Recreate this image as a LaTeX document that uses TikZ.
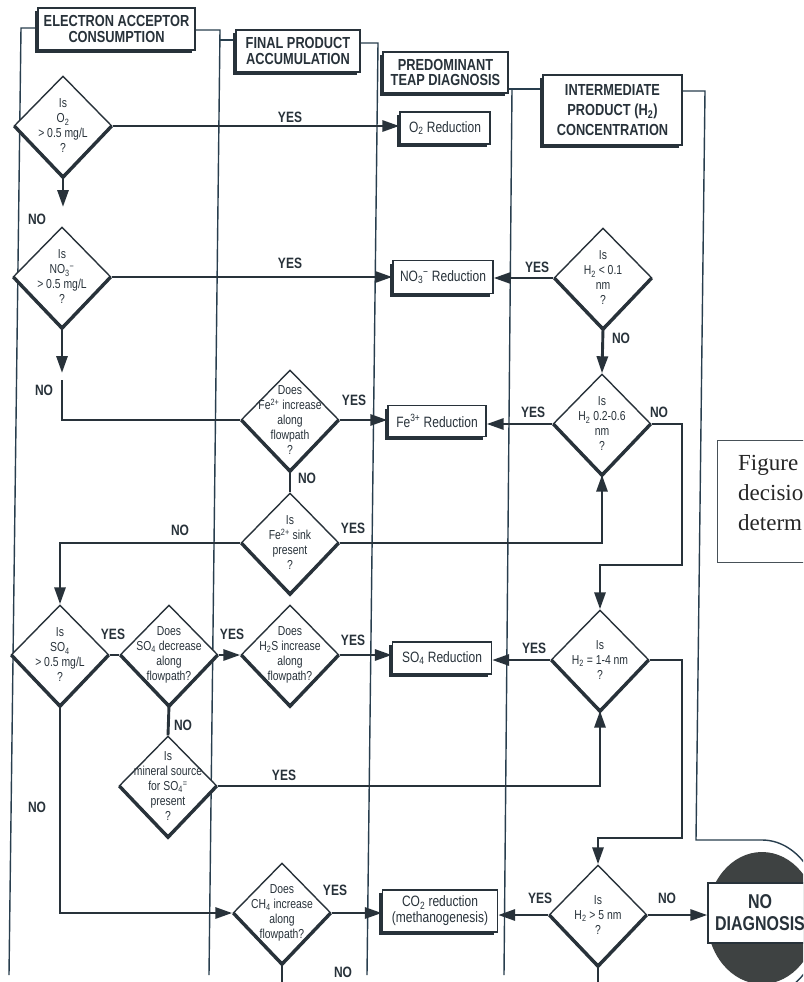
\documentclass[tikz,border=0pt]{standalone}
\usepackage{fontspec}
\setmainfont{Liberation Sans}[FakeStretch=0.8]
\newfontfamily\capfont{Liberation Serif}
\usetikzlibrary{shapes.geometric,arrows.meta,calc}
\definecolor{ink}{RGB}{40,50,58}
\definecolor{lane}{RGB}{40,62,78}
\definecolor{disc}{RGB}{62,66,66}
\begin{document}
\begin{tikzpicture}[x=1pt,y=-1pt,
  conn/.style={draw=ink, line width=2.9pt},
  arr/.style={conn, -{Triangle[length=17pt,width=11pt]}},
  lanel/.style={draw=lane, line width=1.4pt},
  thk/.style={draw=ink, line width=3.4pt, line join=miter, line cap=butt},
  dec/.style={diamond, draw=ink, fill=white, line width=1.4pt, inner sep=0pt,
    minimum width=98pt, minimum height=100pt},
  dtxt/.style={align=center, font=\fontsize{13}{15}\selectfont, text=ink, inner sep=0pt},
  tbox/.style={draw=ink, fill=white, line width=1.3pt, inner sep=2pt, align=center,
    text=ink, font=\fontsize{15}{16}\selectfont},
  hbox/.style={draw=ink, fill=white, line width=1.3pt, inner sep=2pt, align=center,
    text=ink, font=\fontsize{16}{15.5}\selectfont\bfseries},
  lbl/.style={font=\fontsize{15}{15}\selectfont\bfseries, text=ink, inner sep=0pt},
]
\useasboundingbox (0,0) rectangle (803,982);
\clip (0,0) rectangle (803,982);
\fill[white] (0,0) rectangle (803,982);

% swim lanes
\draw[lanel] (9,975) -- (21,28) -- (38,28);
\draw[lanel] (195,30) -- (220,30) -- (209,975);
\draw[lanel] (220,40) -- (236,40);
\draw[lanel] (360,43) -- (378,43) -- (367,975);
\draw[lanel] (508,89) -- (543,89);
\draw[lanel] (512,89) -- (504,975);
\draw[lanel] (682,91) -- (705,91) -- (696,840) -- (762,840)
  arc[start angle=90, end angle=-90, x radius=60pt, y radius=78pt];

% headers
\node[hbox, minimum width=157pt, minimum height=42pt] (hd1) at (116.5,29) {ELECTRON ACCEPTOR\\CONSUMPTION};
\node[hbox, minimum width=124pt, minimum height=42pt] (hd2) at (298,51) {FINAL PRODUCT\\ACCUMULATION};
\node[hbox, minimum width=125pt, minimum height=41pt] (hd3) at (445.5,72.5) {PREDOMINANT\\TEAP DIAGNOSIS};
\node[hbox, minimum width=139pt, minimum height=70pt, font=\fontsize{16}{20}\selectfont\bfseries] (hd4) at (612.5,110) {INTERMEDIATE\\PRODUCT (H\textsubscript{2})\\CONCENTRATION};

% no diagnosis
\fill[disc] (762,918) ellipse [x radius=55pt, y radius=66pt];
\node[draw=ink, fill=white, line width=1.3pt, minimum width=104pt, minimum height=60pt,
  align=center, text=ink, font=\fontsize{20}{22}\selectfont\bfseries, inner sep=0pt] (nd) at (760,913) {NO\\DIAGNOSIS};

% caption box
\node[draw=ink!85, line width=1pt, minimum width=100pt, minimum height=122pt, anchor=north west] (capbox) at (717,440) {};
\node[anchor=north west, align=left, inner sep=0pt, text=black!85,
  font=\capfont\fontsize{23}{30}\selectfont] (capt) at (738,455) {Figure\\decisio\\determ};

% decisions
\node[dec] (d1) at (63,126) {};
\node[dec] (d2) at (62,277) {};
\node[dec] (d3) at (290,420) {};
\node[dec] (d4) at (290,543) {};
\node[dec] (d5) at (60,655) {};
\node[dec] (d6) at (169,655) {};
\node[dec] (d7) at (290,655) {};
\node[dec] (d8) at (168,786) {};
\node[dec] (d9) at (282,913) {};
\node[dec] (h1) at (603,278) {};
\node[dec] (h2) at (602,424) {};
\node[dec] (h3) at (600,660) {};
\node[dec] (h4) at (598,915) {};
\foreach \n in {d1,d2,d3,d4,d5,d6,d7,d8,d9,h1,h2,h3,h4}
  \draw[thk] ([xshift=1pt]\n.west) -- ([yshift=-0.5pt]\n.south) -- ([xshift=-1pt]\n.east);

\node[dtxt] (d1t) at (d1) {Is\\O\textsubscript{2}\\> 0.5 mg/L\\?};
\node[dtxt] (d2t) at (d2) {Is\\NO\textsubscript{3}\textsuperscript{−}\\> 0.5 mg/L\\?};
\node[dtxt] (d3t) at (d3) {Does\\Fe\textsuperscript{2+} increase\\along\\flowpath\\?};
\node[dtxt] (d4t) at (d4) {Is\\Fe\textsuperscript{2+} sink\\present\\?};
\node[dtxt] (d5t) at (d5) {Is\\SO\textsubscript{4}\\> 0.5 mg/L\\?};
\node[dtxt] (d6t) at (d6) {Does\\SO\textsubscript{4} decrease\\along\\flowpath?};
\node[dtxt] (d7t) at (d7) {Does\\H\textsubscript{2}S increase\\along\\flowpath?};
\node[dtxt] (d8t) at (d8) {Is\\mineral source\\for SO\textsubscript{4}\textsuperscript{=}\\present\\?};
\node[dtxt] (d9t) at (d9) {Does\\CH\textsubscript{4} increase\\along\\flowpath?};
\node[dtxt] (h1t) at (h1) {Is\\H\textsubscript{2} < 0.1\\nm\\?};
\node[dtxt] (h2t) at (h2) {Is\\H\textsubscript{2} 0.2-0.6\\nm\\?};
\node[dtxt] (h3t) at (h3) {Is\\H\textsubscript{2} = 1-4 nm\\?};
\node[dtxt] (h4t) at (h4) {Is\\H\textsubscript{2} > 5 nm\\?};

% result boxes
\node[tbox, minimum width=90pt, minimum height=32pt] (o2) at (445,128) {O\textsubscript{2} Reduction};
\node[tbox, minimum width=100pt, minimum height=33pt] (no3) at (443,277) {NO\textsubscript{3}\textsuperscript{−} Reduction};
\node[tbox, minimum width=98pt, minimum height=31pt] (fe3) at (437,421) {Fe\textsuperscript{3+} Reduction};
\node[tbox, minimum width=99pt, minimum height=32pt] (so4) at (442,658) {SO\textsubscript{4} Reduction};
\node[tbox, minimum width=115pt, minimum height=42pt] (co2) at (440,911) {CO\textsubscript{2} reduction\\(methanogenesis)};
\foreach \n in {o2,no3,fe3,so4,co2,hd1,hd2,hd3,hd4}
  \draw[thk, line width=3pt] ([xshift=-1.2pt,yshift=-4pt]\n.north west) -- ([xshift=-1.2pt,yshift=-1.2pt]\n.south west) -- ([xshift=-4pt,yshift=-1.2pt]\n.south east);

% helper coordinates
\coordinate (n1) at (63,207);
\coordinate (n2a) at (62,373);
\coordinate (n2b) at (62,380);
\coordinate (r1) at (682,565);
\coordinate (r2) at (682,838);
\coordinate (b1) at (282,982);
\coordinate (b2) at (598,982);

% connectors
\draw[arr] (d1.east) -- (d1.east -| o2.west);
\draw[arr] (d1.south) -- (n1);
\draw[arr] (d2.east) -- (d2.east -| no3.west);
\draw[arr] (d2.south) -- (n2a);
\draw[conn] (n2b) |- (d3.west);
\draw[arr] (d3.east) -- (d3.east -| fe3.west);
\draw[conn] (d3.south) -- (d4.north);
\draw[arr] (d4.west) -| (d5.north);
\draw[arr] (d4.east) -| (h2.south);
\draw[arr] (h1.west) -- (h1.west -| no3.east);
\draw[arr] (h1.south) -- (h2.north);
\draw[arr] (h2.west) -- (h2.west -| fe3.east);
\draw[arr] (h2.east) -| (r1) -| (h3.north);
\draw[conn] (d5.east) -- (d6.west);
\draw[arr] (d6.east) -- (d7.west);
\draw[arr] (d7.east) -- (d7.east -| so4.west);
\draw[arr] (h3.west) -- (h3.west -| so4.east);
\draw[conn] (d6.south) -- (d8.north);
\draw[arr] (d8.east) -| (h3.south);
\draw[arr] (h3.east) -| (r2) -| (h4.north);
\draw[arr] (d5.south) |- (d9.west);
\draw[arr] (d9.east) -- (d9.east -| co2.west);
\draw[conn] (d9.south) -- (b1);
\draw[arr] (h4.west) -- (h4.west -| co2.east);
\draw[arr] (h4.east) -- (h4.east -| nd.west);
\draw[conn] (h4.south) -- (b2);

% labels
\node[lbl] (l1) at (290,117) {YES};
\node[lbl] (l2) at (37,219) {NO};
\node[lbl] (l3) at (290,263) {YES};
\node[lbl] (l4) at (44,390) {NO};
\node[lbl] (l5) at (354,400) {YES};
\node[lbl] (l6) at (307,478) {NO};
\node[lbl] (l7) at (180,530) {NO};
\node[lbl] (l8) at (353,528) {YES};
\node[lbl] (l9) at (537,267) {YES};
\node[lbl] (l10) at (621,338) {NO};
\node[lbl] (l11) at (533,412) {YES};
\node[lbl] (l12) at (659,412) {NO};
\node[lbl] (l13) at (113,634) {YES};
\node[lbl] (l14) at (232,634) {YES};
\node[lbl] (l15) at (353,640) {YES};
\node[lbl] (l16) at (534,648) {YES};
\node[lbl] (l17) at (183,725) {NO};
\node[lbl] (l18) at (284,775) {YES};
\node[lbl] (l19) at (37,807) {NO};
\node[lbl] (l20) at (335,890) {YES};
\node[lbl] (l21) at (343,972) {NO};
\node[lbl] (l22) at (540,898) {YES};
\node[lbl] (l23) at (667,898) {NO};
\end{tikzpicture}
\end{document}
